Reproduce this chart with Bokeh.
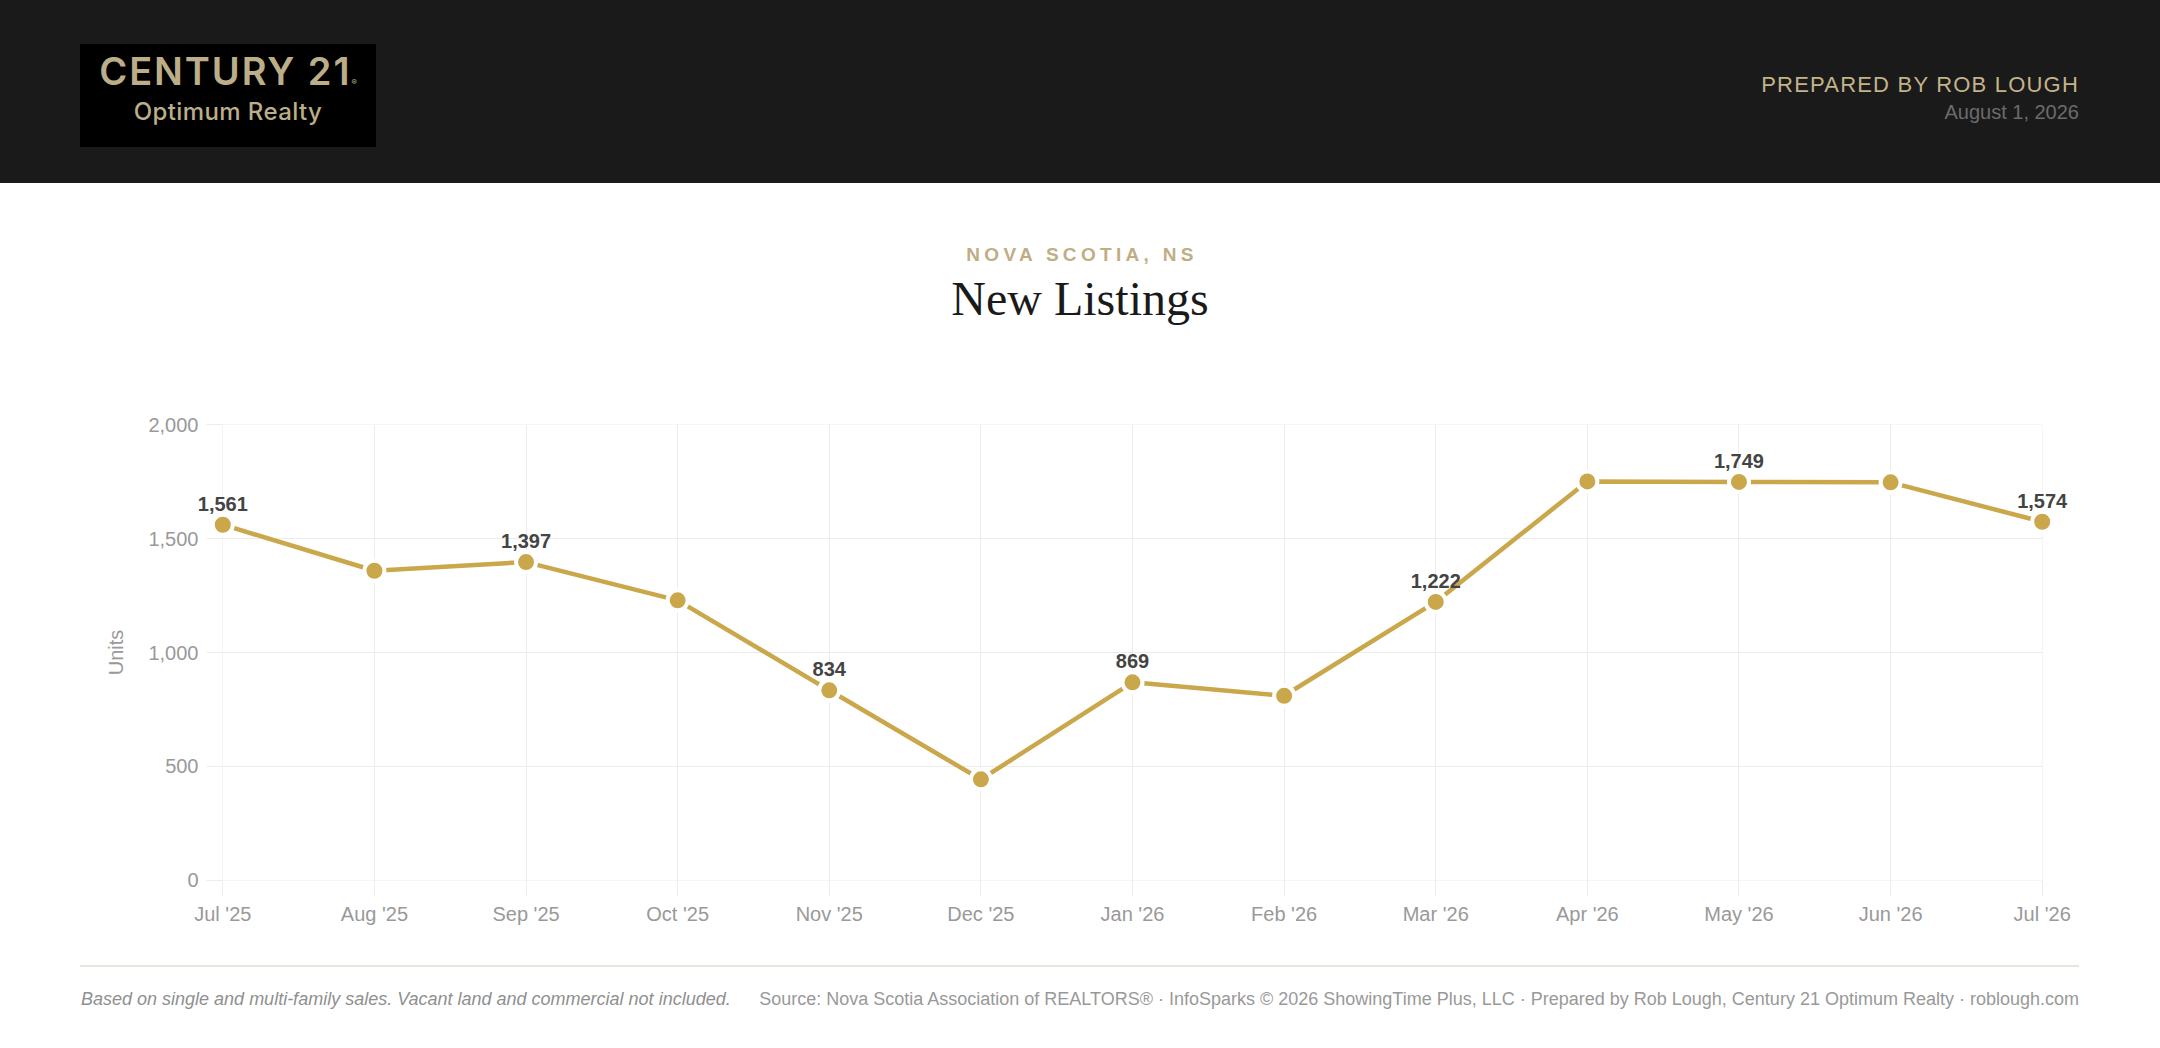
from bokeh.plotting import figure
from bokeh.models import Div, Range1d, FixedTicker, NumeralTickFormatter, ColumnDataSource
from bokeh.layouts import column
from bokeh.core.properties import value
from bokeh.embed import file_html
from bokeh.resources import INLINE

# ---- data ----
months = ["Jul '25", "Aug '25", "Sep '25", "Oct '25", "Nov '25", "Dec '25", "Jan '26",
          "Feb '26", "Mar '26", "Apr '26", "May '26", "Jun '26", "Jul '26"]
new_listings = [1561, 1359, 1397, 1229, 834, 443, 869, 810, 1222, 1751, 1749, 1747, 1574]
y_ticks = [0, 500, 1000, 1500, 2000]
labeled_every = 2

region = "NOVA SCOTIA, NS"
title = "New Listings"
y_title = "Units"
prepared = "PREPARED BY ROB LOUGH"
date_txt = "August 1, 2026"
foot_left = "Based on single and multi-family sales. Vacant land and commercial not included."
foot_right = ("Source: Nova Scotia Association of REALTORS® · InfoSparks © 2026 ShowingTime Plus, LLC · "
              "Prepared by Rob Lough, Century 21 Optimum Realty · roblough.com")

GOLD = "#c9a74a"
TAN = "#c2b38a"
GRID = "#ececec"
W = 2160

# ---- header ----
header_html = f"""<div style="display:block;position:relative;width:{W}px;height:183px;background:#1a1a1a;overflow:hidden;">
  <div style="position:absolute;left:80px;top:44px;width:296px;height:103px;background:#000;"></div>
  <div style="position:absolute;left:80px;top:49px;width:296px;text-align:center;font-family:Inter;font-weight:600;
              font-size:38px;line-height:44px;color:#bcae88;letter-spacing:1.9px;white-space:nowrap;">CENTURY 21<span style="font-size:8px;letter-spacing:0;">®</span></div>
  <div style="position:absolute;left:80px;top:97px;width:296px;text-align:center;font-family:Inter;font-weight:500;
              font-size:24px;line-height:30px;color:#bcae88;letter-spacing:0.4px;white-space:nowrap;">Optimum Realty</div>
  <div style="position:absolute;right:81px;top:72px;text-align:right;font-family:'Liberation Sans';
              font-size:22px;line-height:26px;color:{TAN};letter-spacing:1.2px;white-space:nowrap;">{prepared}</div>
  <div style="position:absolute;right:81px;top:100px;text-align:right;font-family:'Liberation Sans';
              font-size:20px;line-height:24px;color:#6b6b6b;white-space:nowrap;">{date_txt}</div>
</div>"""
header = Div(text=header_html, width=W, height=183, margin=0,
             styles={"overflow": "hidden", "line-height": "0"})

title_html = f"""<div style="display:block;position:relative;width:{W}px;height:147px;background:#fff;">
  <div style="position:absolute;left:0;top:60px;width:{W}px;text-align:center;font-family:'Liberation Sans';
              font-weight:bold;font-size:19px;line-height:24px;color:#bfae84;letter-spacing:4.3px;padding-left:4px;box-sizing:border-box;">{region}</div>
  <div style="position:absolute;left:0;top:89px;width:{W}px;text-align:center;font-family:'Liberation Serif';
              font-size:48px;line-height:54px;color:#1a1a1a;">{title}</div>
</div>"""
title_div = Div(text=title_html, width=W, height=147, margin=0,
                styles={"overflow": "hidden", "line-height": "0"})

# ---- chart ----
xs = list(range(len(months)))
p = figure(width=W, height=610, output_backend="svg", toolbar_location=None,
           x_range=Range1d(-0.002, len(months) - 1 + 0.002), y_range=Range1d(-1, 2001),
           min_border_left=222, min_border_right=118, min_border_top=94, min_border_bottom=60,
           margin=0)
p.outline_line_color = None
p.background_fill_color = "white"
p.border_fill_color = "white"

p.xaxis.ticker = FixedTicker(ticks=xs)
p.xaxis.major_label_overrides = {i: m for i, m in enumerate(months)}
p.yaxis.ticker = FixedTicker(ticks=y_ticks)
p.yaxis.formatter = NumeralTickFormatter(format="0,0")

for ax in (p.xaxis, p.yaxis):
    ax.axis_line_color = None
    ax.major_tick_in = 0
    ax.major_tick_out = 16
    ax.major_tick_line_color = GRID
    ax.major_tick_line_width = 1
    ax.minor_tick_line_color = None
    ax.major_label_text_font = "Liberation Sans"
    ax.major_label_text_font_size = "20px"
    ax.major_label_text_color = "#999999"
p.xaxis.major_label_standoff = 6
p.yaxis.major_label_standoff = 8
p.yaxis.axis_label = y_title
p.yaxis.axis_label_text_font = "Liberation Sans"
p.yaxis.axis_label_text_font_style = "normal"
p.yaxis.axis_label_text_font_size = "20px"
p.yaxis.axis_label_text_color = "#999999"
p.yaxis.axis_label_standoff = 18

p.xgrid.grid_line_color = GRID
p.ygrid.grid_line_color = GRID
p.xgrid.grid_line_width = 1
p.ygrid.grid_line_width = 1

src = ColumnDataSource(dict(x=xs, y=new_listings))
p.line("x", "y", source=src, line_color=GOLD, line_width=4.5, level="overlay")
p.scatter("x", "y", source=src, size=20, fill_color=GOLD, line_color="white", line_width=4,
          level="overlay")

lab_idx = list(range(0, len(months), labeled_every))
lab_src = ColumnDataSource(dict(x=[xs[i] for i in lab_idx],
                                y=[new_listings[i] for i in lab_idx],
                                t=[f"{new_listings[i]:,}" for i in lab_idx]))
p.text("x", "y", text="t", source=lab_src, text_font=value("Liberation Sans"), text_font_style="bold",
       text_font_size="20px", text_color="#444444", text_align="center", text_baseline="alphabetic",
       y_offset=-21, level="overlay")

# ---- footer ----
footer_html = f"""<div style="display:block;position:relative;width:{W}px;height:100px;background:#fff;">
  <div style="position:absolute;left:80px;top:25px;width:1999px;height:2px;background:#e9e5dc;"></div>
  <div style="position:absolute;left:81px;top:48px;font-family:'Liberation Sans';font-style:italic;
              font-size:18px;line-height:22px;color:#8f8f8f;white-space:nowrap;">{foot_left}</div>
  <div style="position:absolute;right:81px;top:48px;text-align:right;font-family:'Liberation Sans';
              font-size:18px;line-height:22px;color:#999999;white-space:nowrap;">{foot_right}</div>
</div>"""
footer = Div(text=footer_html, width=W, height=100, margin=0,
             styles={"overflow": "hidden", "line-height": "0"})

layout = column(header, title_div, p, footer, spacing=0, margin=0)

open("out.html", "w").write(file_html(layout, INLINE))
